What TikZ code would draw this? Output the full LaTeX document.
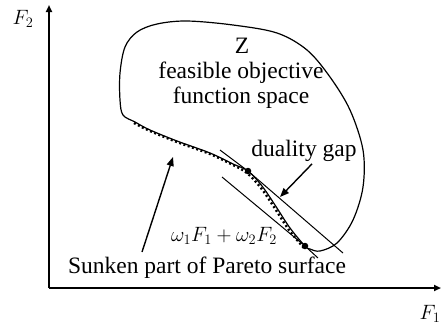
\documentclass[tikz,border=0pt]{standalone}
\usepackage{fontspec}
\setmainfont{Liberation Serif}
\usetikzlibrary{arrows.meta,positioning}

\begin{document}
\begin{tikzpicture}[
  x=1pt, y=-1pt,
  axis/.style={line width=1.8pt, -{Triangle[length=7pt,width=6pt]}},
  region/.style={line width=1.2pt},
  pareto/.style={line width=2.4pt, dash pattern=on 2pt off 2.5pt},
  tangent/.style={line width=1pt},
  arr/.style={line width=1.4pt, -{Triangle[length=9pt,width=7pt]}},
  lbl/.style={font=\fontsize{23.5}{25}\selectfont, inner sep=0pt, align=center},
  axlbl/.style={font=\fontsize{20}{22}\selectfont, inner sep=0pt},
  dot/.style={circle, fill=black, inner sep=0pt, minimum size=6.5pt}
]
\useasboundingbox (0,0) rectangle (443,325);

% axes
\coordinate (origin) at (49,288);
\coordinate (ytop) at (49,5);
\coordinate (xend) at (441,288);
\draw[axis] (origin) -- (ytop);
\draw[axis] (origin) -- (xend);
\node[axlbl] (F2) at (23,19) {$F_2$};
\node[axlbl] (F1) at (430,314) {$F_1$};

% feasible region with Pareto boundary
\draw[region] plot[smooth cycle, tension=0.55] coordinates {
  (135,122) (123,115) (120,100) (120,73) (125,47) (137,32) (157,24)
  (187,21) (233,25) (277,33) (307,50) (330,77) (350,110) (363,150)
  (363,187) (353,220) (337,243) (320,251) (310,249) (305,246)
  (290,228) (275,205) (262,186) (248,171) (233,164) (210,153)
  (177,141) (150,130)};
\draw[pareto] plot[smooth, tension=0.55] coordinates {
  (134,123) (150,131) (177,142) (210,154) (233,165) (247,173)
  (261,188) (274,207) (289,230) (304,248)};

\node[dot] (p1) at (248,171) {};
\node[dot] (p2) at (305,246) {};

% supporting lines
\coordinate (ua) at (220,150);
\coordinate (ub) at (343,253);
\coordinate (la) at (222,177);
\coordinate (lb) at (318,258);
\draw[tangent] (ua) -- (p1) -- (ub);
\draw[tangent] (la) -- (p2) -- (lb);

% labels
\node[lbl] (Z) at (242,46) {Z};
\node[lbl] (space) at (241,85) {feasible objective\\function space};
\node[lbl] (gap) at (304,151) {duality gap};
\node[lbl, font=\fontsize{21}{24}\selectfont] (wsum) at (224,236) {$\omega_1F_1+\omega_2F_2$};
\node[lbl] (sunken) at (207,268) {Sunken part of Pareto surface};

\coordinate (gaptip) at (280,197);
\coordinate (sunktail) at (142,252);
\coordinate (sunktip) at (173,157);
\draw[arr] ([xshift=8pt,yshift=-2pt]gap.south) -- (gaptip);
\draw[arr] (sunktail) -- (sunktip);
\end{tikzpicture}
\end{document}
